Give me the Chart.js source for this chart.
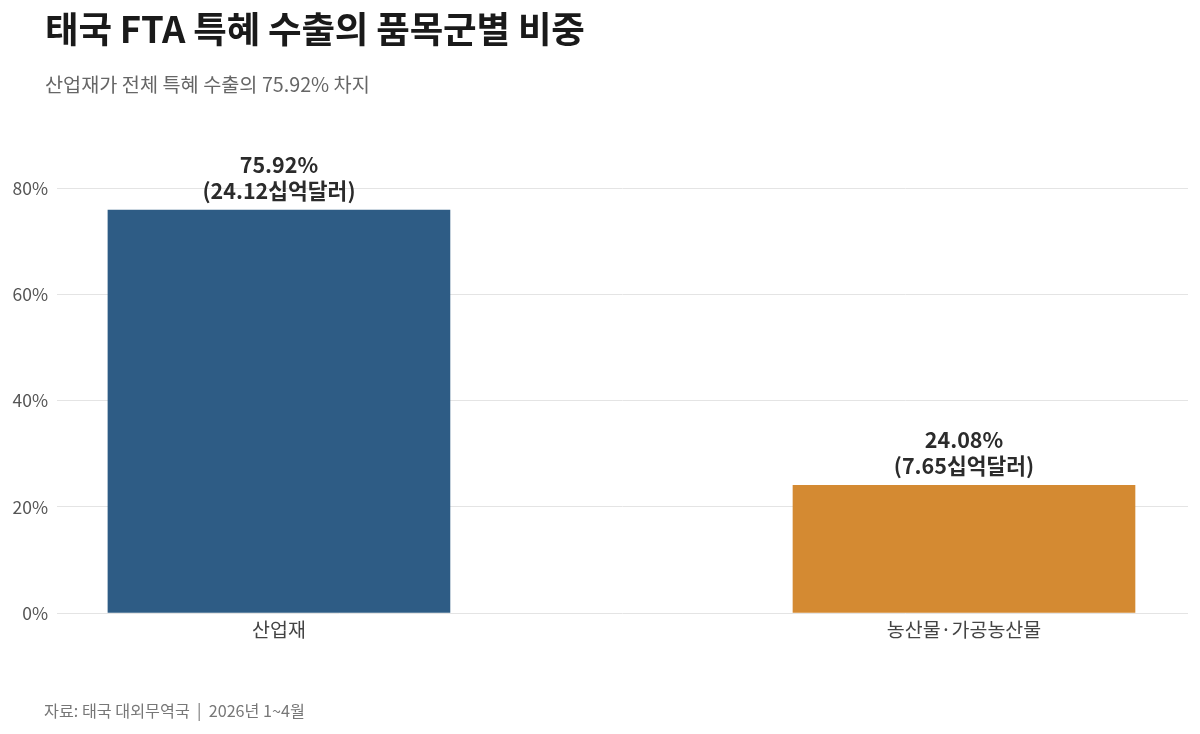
<!DOCTYPE html>
<html>
<head>
<meta charset="utf-8">
<script src="https://cdn.jsdelivr.net/npm/chart.js@4/dist/chart.umd.min.js"></script>
<style>
  body { margin: 0; background: #fff; font-family: "Noto Sans CJK KR", "Noto Sans", sans-serif; }
  #wrap { position: relative; width: 1200px; height: 734px; overflow: hidden; }
  #title { position: absolute; left: 45px; top: 1px; font-size: 36.5px; font-weight: 700; color: #1a1a1a; letter-spacing: -0.2px; }
  #subtitle { position: absolute; left: 45px; top: 69px; font-size: 19.7px; color: #666; }
  #source { position: absolute; left: 44px; top: 698px; font-size: 16.2px; color: #777; }
  canvas { position: absolute; left: 0; top: 0; }
</style>
</head>
<body>
<div id="wrap">
  <canvas id="chart" width="1200" height="734"></canvas>
  <div id="title">태국 FTA 특혜 수출의 품목군별 비중</div>
  <div id="subtitle">산업재가 전체 특혜 수출의 75.92% 차지</div>
  <div id="source">자료: 태국 대외무역국 &nbsp;|&nbsp; 2026년 1~4월</div>
</div>
<script>
const categories = ['산업재', '농산물·가공농산물'];
const shares = [75.92, 24.08];          // % of total preferential exports
const amounts = [24.12, 7.65];          // 십억달러
const barColors = ['#2e5c85', '#d48a32'];
const yTicks = [0, 20, 40, 60, 80];

const FONT = '"Noto Sans CJK KR", "Noto Sans", sans-serif';

// value labels above each bar
const barLabels = {
  id: 'barLabels',
  afterDatasetsDraw(chart) {
    const ctx = chart.ctx;
    const meta = chart.getDatasetMeta(0);
    ctx.save();
    ctx.fillStyle = '#2b2b2b';
    ctx.textAlign = 'center';
    ctx.textBaseline = 'middle';
    ctx.font = `700 21.5px ${FONT}`;
    meta.data.forEach((bar, i) => {
      ctx.fillText(shares[i].toFixed(2) + '%', bar.x, bar.y - 45);
      ctx.fillText('(' + amounts[i].toFixed(2) + '십억달러)', bar.x, bar.y - 19);
    });
    ctx.restore();
  }
};

new Chart(document.getElementById('chart'), {
  type: 'bar',
  data: {
    datasets: [{
      data: shares.map((v, i) => ({ x: i, y: v })),
      backgroundColor: barColors,
      borderWidth: 0,
      barThickness: 342
    }]
  },
  options: {
    responsive: false,
    animation: false,
    layout: { padding: { left: 0, right: 12, top: 162, bottom: 0 } },
    plugins: {
      legend: { display: false },
      tooltip: { enabled: false }
    },
    scales: {
      x: {
        type: 'linear',
        offset: false,
        min: -0.324,
        max: 1.327,
        grid: { display: false },
        border: { display: false },
        afterBuildTicks(scale) {
          scale.ticks = categories.map((c, i) => ({ value: i }));
        },
        afterFit(scale) { scale.height = 121; },
        ticks: {
          padding: -3,
          color: '#444',
          font: { family: FONT, size: 19.5 },
          callback: v => categories[v]
        }
      },
      y: {
        min: 0,
        max: 85,
        afterBuildTicks(scale) {
          scale.ticks = yTicks.map(v => ({ value: v }));
        },
        afterFit(scale) { scale.width = 57; },
        grid: { color: '#e4e4e4', lineWidth: 1, drawTicks: false },
        border: { display: false },
        ticks: {
          padding: 9,
          color: '#555',
          font: { family: FONT, size: 17.5 },
          callback: v => v + '%'
        }
      }
    }
  },
  plugins: [barLabels]
});
</script>
</body>
</html>
